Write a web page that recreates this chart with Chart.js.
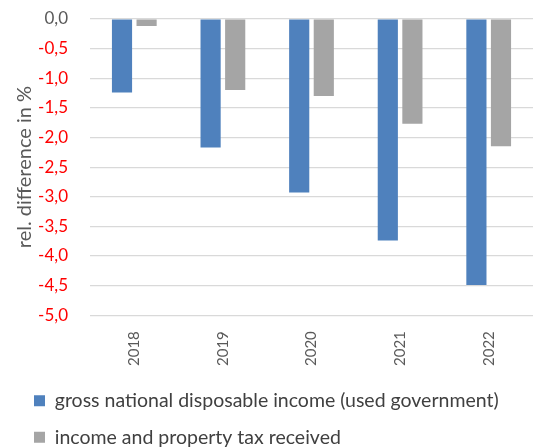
<!DOCTYPE html>
<html>
<head>
<meta charset="utf-8">
<script src="https://cdn.jsdelivr.net/npm/chart.js@4/dist/chart.umd.min.js"></script>
<style>
html,body{margin:0;padding:0;background:#fff;}
#wrap{width:533px;height:448px;}
</style>
</head>
<body>
<div id="wrap"><canvas id="c"></canvas></div>
<script>
const categories = ['2018','2019','2020','2021','2022'];
const seriesNames = ['gross national disposable income (used government)','income and property tax received'];
const gndiValues = [-1.24, -2.17, -2.93, -3.74, -4.49];
const taxValues = [-0.12, -1.20, -1.30, -1.77, -2.15];
const yTicks = [0,-0.5,-1,-1.5,-2,-2.5,-3,-3.5,-4,-4.5,-5];

const FONT = 'Lato, "Open Sans", sans-serif';

const legendShift = {
  id: 'legendShift',
  afterLayout(chart){
    if (chart.legend) { chart.legend.left += 11; }
  }
};

new Chart(document.getElementById('c'), {
  type: 'bar',
  data: {
    labels: categories,
    datasets: [
      { label: seriesNames[0], data: gndiValues, backgroundColor: '#4F81BD', categoryPercentage: 0.555, barPercentage: 0.82 },
      { label: seriesNames[1], data: taxValues, backgroundColor: '#A5A5A5', categoryPercentage: 0.555, barPercentage: 0.82 }
    ]
  },
  options: {
    responsive: true,
    maintainAspectRatio: false,
    animation: false,
    layout: { padding: { top: 0, right: 0, left: 6, bottom: -9 } },
    plugins: {
      tooltip: { enabled: false },
      legend: {
        position: 'bottom',
        align: 'start',
        labels: {
          boxWidth: 11,
          boxHeight: 11,
          padding: 17,
          color: '#404040',
          font: { family: FONT, size: 19.5 }
        }
      }
    },
    scales: {
      x: {
        grid: { display: false },
        border: { display: false },
        ticks: {
          minRotation: 90, maxRotation: 90,
          color: '#595959',
          padding: 8,
          font: { family: FONT, size: 15 }
        }
      },
      y: {
        min: -5, max: 0,
        afterBuildTicks(axis){ axis.ticks = yTicks.map(v => ({ value: v })); },
        afterFit(axis){ axis.width = 84; axis.paddingTop = 19; axis.paddingBottom = 0; },
        grid: { color: '#D9D9D9', lineWidth: 1.2, drawTicks: false },
        border: { display: false },
        ticks: {
          padding: 22,
          color: ctx => (ctx.tick && ctx.tick.value < 0) ? '#FF0000' : '#595959',
          font: { family: FONT, size: 17 },
          callback: v => v.toFixed(1).replace('.', ',')
        },
        title: {
          display: true,
          text: 'rel. difference in %',
          color: '#595959',
          font: { family: FONT, size: 20 },
          padding: { top: 7, bottom: 0 }
        }
      }
    }
  },
  plugins: [legendShift]
});
</script>
</body>
</html>
